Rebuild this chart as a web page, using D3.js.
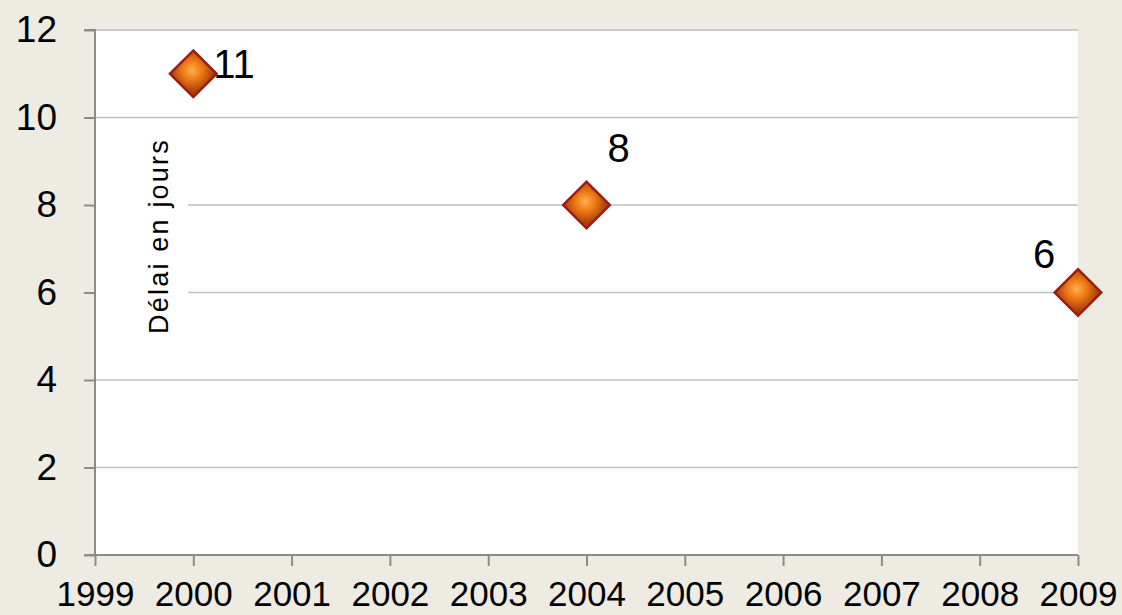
<!DOCTYPE html>
<html><head><meta charset="utf-8">
<script src="https://cdn.jsdelivr.net/npm/d3@7"></script>
<style>html,body{margin:0;padding:0;background:#EEEBE2;}svg{display:block;}</style>
</head><body>
<svg id="c" width="1122" height="615"></svg>
<script>
const years = [2000, 2004, 2009];
const delays = [11, 8, 6];
const yTicks = [0, 2, 4, 6, 8, 10, 12];
const xTicks = [1999, 2000, 2001, 2002, 2003, 2004, 2005, 2006, 2007, 2008, 2009];
const yTitle = "Délai en jours";
// label offsets relative to each point (layout, not data)
const labelDx = [20, 32, -34];
const labelDy = [4, -43, -25];
const labelAnchor = ["start", "middle", "middle"];

const svg = d3.select("#c");
const W = 1122, H = 615;
const m = {l: 95, r: 1078, t: 30, b: 555};
const x = d3.scaleLinear().domain([1999, 2009]).range([m.l, m.r]);
const y = d3.scaleLinear().domain([0, 12]).range([m.b, m.t]);
const font = "Liberation Sans, Arial, sans-serif";

svg.append("rect").attr("width", W).attr("height", H).attr("fill", "#EEEBE2");
svg.append("rect").attr("x", m.l).attr("y", m.t).attr("width", m.r - m.l).attr("height", m.b - m.t).attr("fill", "#fff");

// gridlines
svg.append("g").selectAll("line").data(yTicks.filter(d => d > 0)).join("line")
  .attr("x1", m.l).attr("x2", m.r).attr("y1", d => y(d)).attr("y2", d => y(d))
  .attr("stroke", "#BFBFBF").attr("stroke-width", 1.3);

// y axis title box
svg.append("rect").attr("x", m.l + 1).attr("y", 130).attr("width", 92).attr("height", 212).attr("fill", "#fff");
svg.append("text").attr("transform", "translate(168,236) rotate(-90)")
  .attr("text-anchor", "middle").attr("font-family", font).attr("font-size", 27)
  .attr("letter-spacing", 2.2).attr("fill", "#000")
  .text(yTitle);

// axes
const yAxis = d3.axisLeft(y).tickValues(yTicks).tickSize(11).tickPadding(27).tickFormat(d3.format("d"));
const gy = svg.append("g").attr("transform", `translate(${m.l},0)`).call(yAxis);
const xAxis = d3.axisBottom(x).tickValues(xTicks).tickSize(11).tickPadding(15).tickFormat(d3.format("d"));
const gx = svg.append("g").attr("transform", `translate(0,${m.b})`).call(xAxis);
[gy, gx].forEach(g => {
  g.select(".domain").attr("stroke", "#8C8C8C").attr("stroke-width", 2);
  g.selectAll(".tick line").attr("stroke", "#8C8C8C").attr("stroke-width", 2);
  g.selectAll(".tick text").attr("font-family", font).attr("font-size", 35).attr("fill", "#000");
});
gy.selectAll(".tick text").attr("font-size", 37);
gy.select(".domain").attr("d", `M-11,${m.t}H0V${m.b}`);
gx.select(".domain").attr("d", `M${m.l - 11},0H${m.r}`);

// marker gradient
const defs = svg.append("defs");
const grad = defs.append("radialGradient").attr("id", "mg").attr("cx", "40%").attr("cy", "45%").attr("r", "65%");
grad.append("stop").attr("offset", "0%").attr("stop-color", "#FFB050");
grad.append("stop").attr("offset", "45%").attr("stop-color", "#EE7A14");
grad.append("stop").attr("offset", "100%").attr("stop-color", "#A8400A");

const pts = years.map((d, i) => ({yr: d, v: delays[i], i}));
const sym = d3.symbol().type(d3.symbolSquare).size(33 * 33);
svg.append("g").selectAll("path").data(pts).join("path")
  .attr("d", sym)
  .attr("transform", d => `translate(${x(d.yr)},${y(d.v)}) rotate(45)`)
  .attr("fill", "url(#mg)").attr("stroke", "#9E1B14").attr("stroke-width", 2.5);

svg.append("g").selectAll("text").data(pts).join("text")
  .attr("x", d => x(d.yr) + labelDx[d.i]).attr("y", d => y(d.v) + labelDy[d.i])
  .attr("text-anchor", d => labelAnchor[d.i])
  .attr("font-family", font).attr("font-size", 40).attr("fill", "#000")
  .text(d => d.v);
</script>
</body></html>
